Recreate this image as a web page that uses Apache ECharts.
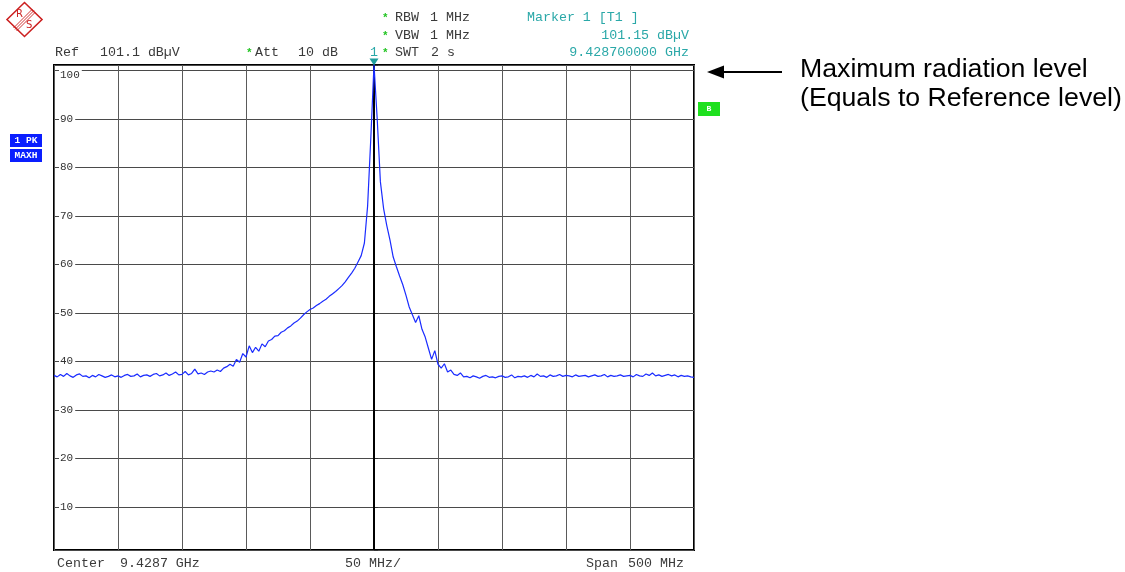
<!DOCTYPE html>
<html>
<head>
<meta charset="utf-8">
<script src="https://cdn.jsdelivr.net/npm/echarts@6/dist/echarts.min.js"></script>
<style>
html,body{margin:0;padding:0;background:#fff;}
#chart{width:1125px;height:572px;}
</style>
</head>
<body>
<div id="chart"></div>
<script>
// Sweep grid (offset from center frequency 9.4287 GHz, in MHz)
const sweepStartMHz = -250;
const sweepStepMHz = 2.5;

// Trace level, dBµV, one value per sweep point (201 points, -250 .. +250 MHz)
const floorLeft = [
  37.1, 36.8, 37.3, 36.9, 37.5, 37.0, 36.7, 37.2, 37.4, 36.9,
  37.0, 36.6, 37.1, 36.8, 37.3, 37.0, 36.7, 36.9, 37.2, 36.8,
  37.0, 36.7, 37.1, 37.3, 36.9, 37.0, 37.4, 36.8, 37.1, 37.2,
  36.9, 37.3, 37.5, 37.0, 37.2, 37.6, 37.1, 37.4, 37.8, 37.2,
  37.3, 37.9, 37.2, 37.5, 38.4, 37.4, 37.6, 37.3, 37.8, 38.0
];
const riseLeft = [
  37.8, 38.2, 37.9, 38.6, 38.9, 39.4, 39.0, 40.4, 39.8, 41.6,
  40.9, 43.2, 41.8, 42.9, 42.1, 43.6, 43.0, 44.2, 44.5, 45.2,
  45.3, 46.0, 46.3, 46.9, 47.3, 47.9, 48.3, 48.9, 49.6, 50.2,
  50.7, 51.0, 51.5, 51.9, 52.4, 52.8, 53.4, 53.9, 54.4, 55.0,
  55.6, 56.4, 57.3, 58.2, 59.2, 60.5, 61.8, 64.4, 72.0, 86.0
];
const peakLevel = [101.15];
const fallRight = [
  90.0, 77.0, 71.5, 68.0, 65.0, 61.5, 59.5, 57.6, 55.8, 53.6,
  51.2, 49.6, 48.0, 49.4, 46.6, 45.0, 42.7, 40.4, 42.2, 39.4,
  38.6, 39.5, 37.8, 38.2, 37.3, 37.1, 37.6, 36.8
];
const floorRight = [
  36.9, 36.6, 37.0, 36.8, 36.5, 36.9, 37.1, 36.7, 36.8, 36.6,
  36.9, 37.0, 36.7, 36.8, 37.2, 36.6, 36.9, 36.8, 37.0, 36.7,
  37.1, 36.8, 37.4, 36.9, 37.0, 36.7, 37.2, 36.9, 37.0, 37.3,
  36.9, 37.1, 37.0, 36.8, 37.2, 36.9, 37.0, 37.1, 36.8, 37.0,
  37.2, 36.9, 37.0, 37.3, 36.8, 37.1, 36.9, 37.0, 37.2, 36.9,
  37.0, 37.1, 36.8, 37.3, 37.0, 36.9, 37.4, 37.1, 37.6, 37.0,
  37.2, 36.9, 37.1, 37.3, 37.0, 37.2, 36.8, 37.1, 36.9, 37.0,
  36.8, 36.7
];

// Axis settings
const refLevel = 101.1;
const bottomLevel = 1.1;
const yTickLabels = [10, 20, 30, 40, 50, 60, 70, 80, 90, 100];
const markerFreqMHz = 0;
const markerLevel = 101.15;

const levelDb = [].concat(floorLeft, riseLeft, peakLevel, fallRight, floorRight);
const traceData = levelDb.map((v, i) => [sweepStartMHz + i * sweepStepMHz, v]);

const MONO = '"Liberation Mono", "DejaVu Sans Mono", monospace';
const GRAY = '#3a3a3a';
const TEAL = '#2aa8a8';
const GREEN = '#22c422';
const HDR = '13.3px ' + MONO;

function txt(text, x, y, opts) {
  opts = opts || {};
  return {
    type: 'text', x: x, y: y, silent: true,
    style: {
      text: text,
      fill: opts.fill || GRAY,
      font: opts.font || HDR,
      align: opts.align || 'left',
      verticalAlign: 'middle'
    }
  };
}
function star(x, y) {
  return txt('*', x, y + 1, { fill: GREEN, font: 'bold 11px ' + MONO });
}

const graphics = [
  // R&S logo
  { type: 'polygon', silent: true, shape: { points: [[7, 19.5], [24.5, 2.5], [42, 19.5], [24.5, 36.5]] },
    style: { fill: 'none', stroke: '#cc2020', lineWidth: 1.6 } },
  { type: 'line', silent: true, shape: { x1: 34, y1: 10.5, x2: 15, y2: 29.5 }, style: { stroke: '#cc2020', lineWidth: 0.9 } },
  { type: 'line', silent: true, shape: { x1: 35.5, y1: 12, x2: 16.5, y2: 31 }, style: { stroke: '#cc2020', lineWidth: 0.9 } },
  { type: 'line', silent: true, shape: { x1: 32.5, y1: 9, x2: 13.5, y2: 28 }, style: { stroke: '#cc2020', lineWidth: 0.9 } },
  txt('R', 16, 14, { fill: '#cc2020', font: '10px "DejaVu Sans"' }),
  txt('S', 26, 25, { fill: '#cc2020', font: '10px "DejaVu Sans"' }),

  // header row 1
  star(382, 17), txt('RBW', 395, 17), txt('1 MHz', 430, 17),
  txt('Marker 1 [T1 ]', 527, 17, { fill: TEAL }),
  // header row 2
  star(382, 35), txt('VBW', 395, 35), txt('1 MHz', 430, 35),
  txt('101.15 dB\u00b5V', 689, 35, { fill: TEAL, align: 'right' }),
  // header row 3
  txt('Ref', 55, 52), txt('101.1 dB\u00b5V', 100, 52),
  star(246, 52), txt('Att', 255, 52), txt('10 dB', 298, 52),
  txt('1', 370, 52, { fill: TEAL }),
  star(382, 52), txt('SWT', 395, 52), txt('2 s', 431, 52),
  txt('9.428700000 GHz', 689, 52, { fill: TEAL, align: 'right' }),

  // bottom row
  txt('Center', 57, 563), txt('9.4287 GHz', 120, 563),
  txt('50 MHz/', 345, 563),
  txt('Span', 586, 563), txt('500 MHz', 628, 563),

  // trace info boxes
  { type: 'rect', silent: true, shape: { x: 10, y: 134, width: 32, height: 13 }, style: { fill: '#0a1eff' } },
  txt('1 PK', 26, 140.5, { fill: '#fff', align: 'center', font: 'bold 9.5px ' + MONO }),
  { type: 'rect', silent: true, shape: { x: 10, y: 149, width: 32, height: 13 }, style: { fill: '#0a1eff' } },
  txt('MAXH', 26, 155.5, { fill: '#fff', align: 'center', font: 'bold 9.5px ' + MONO }),
  { type: 'rect', silent: true, shape: { x: 698, y: 102, width: 22, height: 14 }, style: { fill: '#1ee01e' } },
  txt('B', 709, 109, { fill: '#fff', align: 'center', font: 'bold 8px ' + MONO }),

  // annotation arrow + text
  { type: 'line', silent: true, shape: { x1: 720, y1: 72, x2: 782, y2: 72 }, style: { stroke: '#000', lineWidth: 2 } },
  { type: 'polygon', silent: true, shape: { points: [[707, 72], [724, 65.5], [724, 78.5]] }, style: { fill: '#000' } },
  txt('Maximum radiation level', 800, 70, { fill: '#000', font: '26.7px "Liberation Sans", Arial, sans-serif' }),
  txt('(Equals to Reference level)', 800, 99, { fill: '#000', font: '26.7px "Liberation Sans", Arial, sans-serif' })
];

const chart = echarts.init(document.getElementById('chart'), null, { renderer: 'canvas' });
chart.setOption({
  animation: false,
  backgroundColor: '#fff',
  grid: { left: 54, right: 431, top: 65, bottom: 22, show: true, borderColor: '#000', borderWidth: 2, backgroundColor: 'transparent' },
  xAxis: {
    type: 'value', min: -250, max: 250, interval: 50,
    axisLine: { show: false }, axisTick: { show: false }, axisLabel: { show: false },
    splitLine: { show: true, lineStyle: { color: '#5a5a5a', width: 1 } }
  },
  yAxis: {
    type: 'value', min: bottomLevel, max: refLevel, splitNumber: 10,
    axisLine: { show: false },
    axisTick: { show: true, inside: true, length: 4, lineStyle: { color: '#333' } },
    axisLabel: {
      show: true, inside: true, margin: 5,
      color: '#333', fontFamily: MONO, fontSize: 11,
      rich: {
        n: { color: '#333', fontFamily: MONO, fontSize: 11, backgroundColor: '#fff', padding: [0, 2, 0, 1] },
        sp: { fontSize: 11, lineHeight: 10 },
        low: { color: '#333', fontFamily: MONO, fontSize: 11, backgroundColor: '#fff', padding: [0, 2, 0, 1], lineHeight: 12 }
      },
      formatter: function (v) {
        const r = Math.round(v);
        if (!(Math.abs(v - r) < 1e-6 && yTickLabels.indexOf(r) >= 0)) return '';
        return r === yTickLabels[yTickLabels.length - 1] ? '{sp| }\n{low|' + r + '}' : '{n|' + r + '}';
      }
    },
    splitLine: { show: true, lineStyle: { color: '#4a4a4a', width: 1 } }
  },
  series: [{
    type: 'line',
    data: traceData,
    showSymbol: false,
    symbol: 'none',
    lineStyle: { color: '#1a2cff', width: 1.2 },
    z: 5,
    markLine: {
      silent: true, symbol: 'none', animation: false,
      label: { show: false },
      lineStyle: { color: '#000', width: 2, type: 'solid' },
      data: [{ xAxis: markerFreqMHz }]
    },
    markPoint: {
      silent: true, animation: false,
      symbol: 'triangle', symbolSize: [9, 7], symbolRotate: 180, symbolOffset: [0, -3],
      itemStyle: { color: '#1f9e9e' },
      label: { show: false },
      data: [{ coord: [markerFreqMHz, refLevel] }]
    }
  }],
  graphic: graphics
});
</script>
</body>
</html>
